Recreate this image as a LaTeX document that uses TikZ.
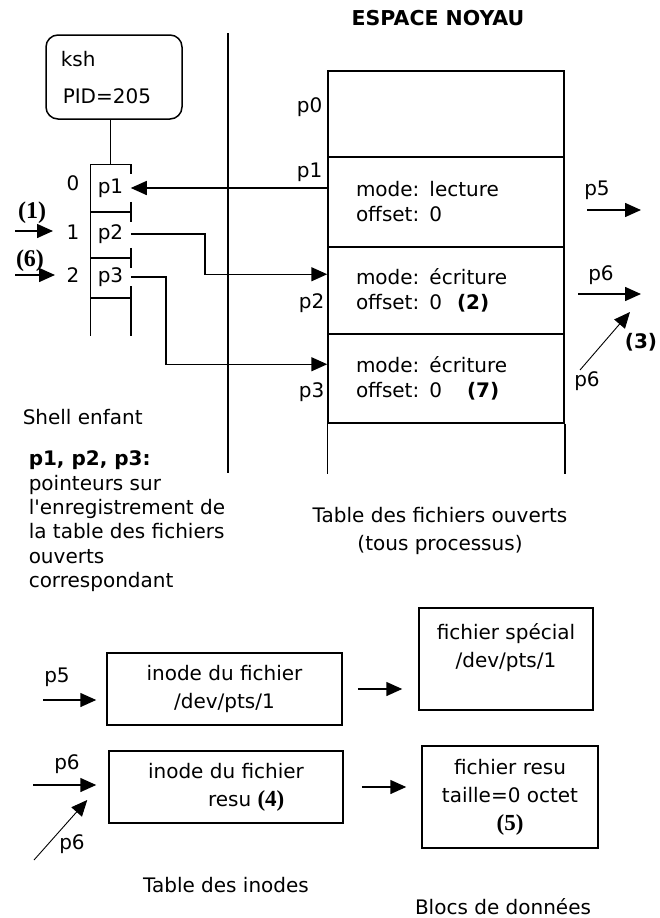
\documentclass[tikz,border=0pt]{standalone}
\usepackage{fontspec}
\setmainfont{DejaVu Sans}[Ligatures=TeXOff]
\newfontfamily\stepfont{Liberation Serif}
\usetikzlibrary{arrows.meta,calc,positioning}

\begin{document}
\begin{tikzpicture}[x=1pt,y=-1pt,line width=1.5pt,
    every node/.style={inner sep=0pt,font=\fontsize{20}{25}\selectfont},
    arr/.style={-{Triangle[length=16pt,width=14pt]}},
    thinarr/.style={-{Triangle[length=16pt,width=14pt]},line width=0.9pt},
    box/.style={draw,minimum width=#1,align=center,font=\fontsize{20}{28}\selectfont},
    fdcell/.style={minimum width=39pt},
    krow/.style={draw,minimum height=#1,text width=180pt,inner xsep=28pt,inner ysep=0pt,align=left},
    stepnum/.style={font=\fontsize{20}{22}\selectfont\bfseries},
    serifnum/.style={font=\stepfont\fontsize{24}{26}\selectfont\bfseries}]

    \useasboundingbox (0,0) rectangle (660,918);

    % Title and separation user / kernel
    \node[font=\fontsize{20.5}{22}\selectfont\bfseries] (title) at (438,18) {ESPACE NOYAU};
    \draw (228,33) -- (228,473);

    % Process ksh
    \node[draw,rounded corners=12pt,minimum width=136pt,minimum height=84pt] (ksh) at (114,77) {};
    \node[anchor=west] (kshname) at (60,59) {ksh};
    \node[anchor=west] (pid) at (62,96) {PID=205};

    % Descriptor table of the child shell
    \node[fdcell,minimum height=46pt] (fd0) at (110.5,188) {p1};
    \node[fdcell,minimum height=46pt] (fd1) at (110.5,234) {p2};
    \node[fdcell,minimum height=40pt] (fd2) at (110.5,277) {p3};
    \node[fdcell,minimum height=38pt] (fd3) at (110.5,316) {};
    \draw (fd0.north east) -- (fd0.north west) -- (fd3.south west);
    \draw (fd0.north east) -- ++(0,10);
    \foreach \c in {fd0,fd1,fd2}{
        \draw (\c.south west) -- (\c.south east);
        \draw ($(\c.south east)+(0,-10)$) -- ++(0,20);
    }
    \draw ($(fd3.north east)+(0,-10)$) -- (fd3.south east);
    \draw (ksh.south -| fd0.north) -- (fd0.north);

    \node (i0) at (73,183) {0};
    \node (i1) at (73,232) {1};
    \node (i2) at (73,275) {2};

    % Steps (1) and (6)
    \coordinate (s1) at (15,231);
    \coordinate (s6) at (15,275);
    \draw[arr] (s1) -- ++(38,0);
    \draw[arr] (s6) -- ++(40,0);
    \node[serifnum] (n1) at (32,213) {(1)};
    \node[serifnum] (n6) at (30,261) {(6)};

    % Open files table
    \node[krow=86pt] (row0) at (446,114) {};
    \node[krow=90pt] (row1) at (446,202) {mode: lecture\\offset: 0};
    \node[krow=87pt] (row2) at (446,290.5) {mode: écriture\\offset: 0\hspace{15pt}{\bfseries(2)}};
    \node[krow=89pt] (row3) at (446,378.5) {mode: écriture\\offset: 0\hspace{25pt}{\bfseries(7)}};
    \draw (row3.south west) -- ++(0,50);
    \draw (row3.south east) -- ++(0,50);

    \node[anchor=east] (lp0) at (323,107) {p0};
    \node[anchor=east] (lp1) at (323,172) {p1};
    \node[anchor=east] (lp2) at (325,303) {p2};
    \node[anchor=east] (lp3) at (325,392) {p3};

    % Pointers p1, p2, p3
    \draw[arr] (row1.west |- fd0.east) -- (fd0.east);
    \draw[arr] (fd1.east) -- ++(74,0) |- ($(row2.north west)+(0,28)$);
    \draw[arr] (fd2.east) -- ++(35,0) |- ($(row3.north west)+(0,31)$);

    % Pointers p5, p6 towards the inodes
    \coordinate (p5a) at (587,210);
    \coordinate (p6a) at (578,294);
    \coordinate (p6b) at (580,370);
    \draw[arr] (p5a) -- ++(54,0);
    \draw[arr] (p6a) -- ++(63,0);
    \draw[thinarr] (p6b) -- ++(50,-58);
    \node (lp5) at (597,190) {p5};
    \node (lp6) at (601,275) {p6};
    \node (lp6b) at (587,381) {p6};
    \node[stepnum] (n3) at (641,342) {(3)};

    % Legends
    \node[anchor=west] (shell) at (22,417) {Shell enfant};
    \node[anchor=north west,align=left,font=\fontsize{20}{24.4}\selectfont] (legend) at (28,450)
        {\textbf{p1, p2, p3:}\\pointeurs sur\\l'enregistrement de\\la table des fichiers\\ouverts\\correspondant};
    \node (tfo) at (440,515) {Table des fichiers ouverts};
    \node (tous) at (440,545) {(tous processus)};

    % Inodes and data blocks
    \node[box=235pt,minimum height=72pt] (ino1) at (224.5,689) {inode du fichier\\/dev/pts/1};
    \node[box=234pt,minimum height=72pt,align=left] (ino2) at (226,787)
        {inode du fichier\\\hspace*{60pt}resu {\stepfont\bfseries\fontsize{23}{28}\selectfont(4)}};
    \node[box=174pt,minimum height=102pt] (blk1) at (506,659) {fichier spécial\\/dev/pts/1\\\mbox{}};
    \node[box=176pt,minimum height=102pt] (blk2) at (510,797)
        {fichier resu\\taille=0 octet\\{\stepfont\bfseries\fontsize{23}{28}\selectfont(5)}};

    \draw[arr,shorten <=15pt,shorten >=16pt] (ino1.east) -- (ino1.east -| blk1.west);
    \draw[arr,shorten <=18pt,shorten >=15pt] (ino2.east) -- (ino2.east -| blk2.west);

    \coordinate (p5in) at (43,700);
    \coordinate (p6in) at (33,785);
    \coordinate (p6bin) at (34,860);
    \draw[arr,shorten >=10pt] (p5in) -- (p5in -| ino1.west);
    \draw[arr,shorten >=12pt] (p6in) -- (p6in -| ino2.west);
    \draw[thinarr] (p6bin) -- ($(ino2.west)+(-21,13)$);
    \node (lp5in) at (57,677) {p5};
    \node (lp6in) at (67,764) {p6};
    \node (lp6bin) at (72,844) {p6};

    \node (tin) at (226,885) {Table des inodes};
    \node (bdd) at (503,907) {Blocs de données};
\end{tikzpicture}
\end{document}
